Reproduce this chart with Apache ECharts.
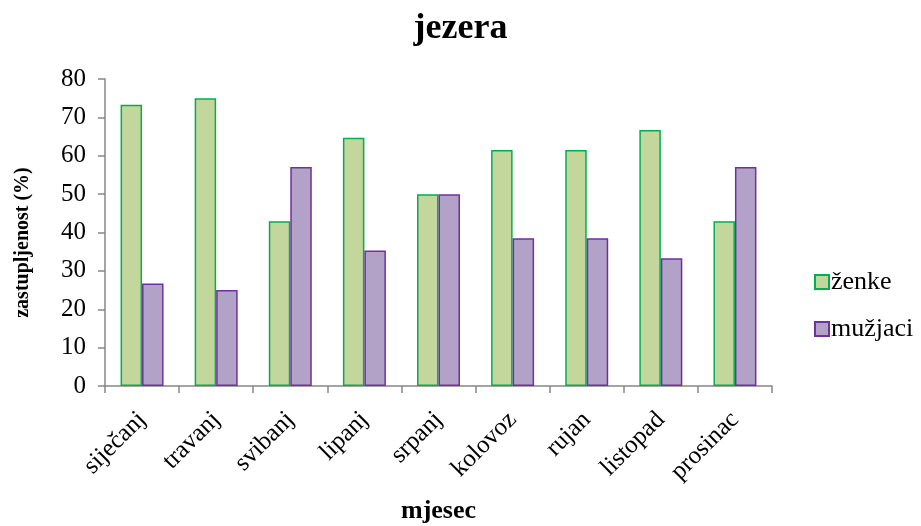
<!DOCTYPE html>
<html><head><meta charset="utf-8">
<script src="https://cdn.jsdelivr.net/npm/echarts@6/dist/echarts.min.js"></script>
<style>html,body{margin:0;padding:0;background:#fff;overflow:hidden}#c{width:921px;height:526px}</style>
</head><body><div id="c"></div>
<script>
const categories = ['siječanj','travanj','svibanj','lipanj','srpanj','kolovoz','rujan','listopad','prosinac'];
const zenke = [73.3, 75.0, 42.9, 64.7, 50.0, 61.5, 61.5, 66.7, 42.9];
const muzjaci = [26.7, 25.0, 57.1, 35.3, 50.0, 38.5, 38.5, 33.3, 57.1];
const yTicks = [0, 10, 20, 30, 40, 50, 60, 70, 80];

const font = '"Liberation Serif", "Times New Roman", serif';
const chart = echarts.init(document.getElementById('c'), null, { width: 921, height: 526 });
chart.setOption({
  animation: false,
  title: { text: 'jezera', left: 'center', top: 6,
    textStyle: { fontFamily: font, fontSize: 36, fontWeight: 'bold', color: '#000' } },
  legend: { orient: 'vertical', left: 809, top: 264, itemWidth: 14, itemHeight: 14, itemGap: 21,
    textStyle: { fontFamily: font, fontSize: 26, color: '#000', padding: [0,0,0,-3] },
    data: [{ name: 'ženke', icon: 'rect' }, { name: 'mužjaci', icon: 'rect' }] },
  grid: { left: 105, right: 149, top: 79, height: 307, outerBoundsMode: 'none', containLabel: false },
  xAxis: { type: 'category', data: categories, name: 'mjesec', nameLocation: 'middle', nameGap: 112,
    nameTextStyle: { fontFamily: font, fontSize: 26, fontWeight: 'bold', color: '#000' },
    axisLine: { lineStyle: { color: '#868686', width: 1.5 } },
    axisTick: { show: true, length: 7, lineStyle: { color: '#868686', width: 1.5 } },
    axisLabel: { rotate: 45, fontFamily: font, fontSize: 25, color: '#000', margin: 30, interval: 0 } },
  yAxis: { type: 'value', min: yTicks[0], max: yTicks[yTicks.length-1], interval: 10,
    name: 'zastupljenost (%)', nameLocation: 'middle', nameGap: 72,
    nameTextStyle: { fontFamily: font, fontSize: 20, fontWeight: 'bold', color: '#000', padding: [0, 20, 0, 0] },
    axisLine: { show: true, lineStyle: { color: '#868686', width: 1.5 } },
    axisTick: { show: true, length: 7, lineStyle: { color: '#868686', width: 1.5 } },
    splitLine: { show: false },
    axisLabel: { fontFamily: font, fontSize: 25, color: '#000', margin: 19 } },
  series: [
    { name: 'ženke', type: 'bar', data: zenke, barGap: '0%', barCategoryGap: '42%',
      itemStyle: { color: '#c3d69b', borderColor: '#00b050', borderWidth: 1.5 } },
    { name: 'mužjaci', type: 'bar', data: muzjaci, barGap: '0%', barCategoryGap: '42%',
      itemStyle: { color: '#b2a2c7', borderColor: '#7030a0', borderWidth: 1.5 } }
  ]
});
</script></body></html>
